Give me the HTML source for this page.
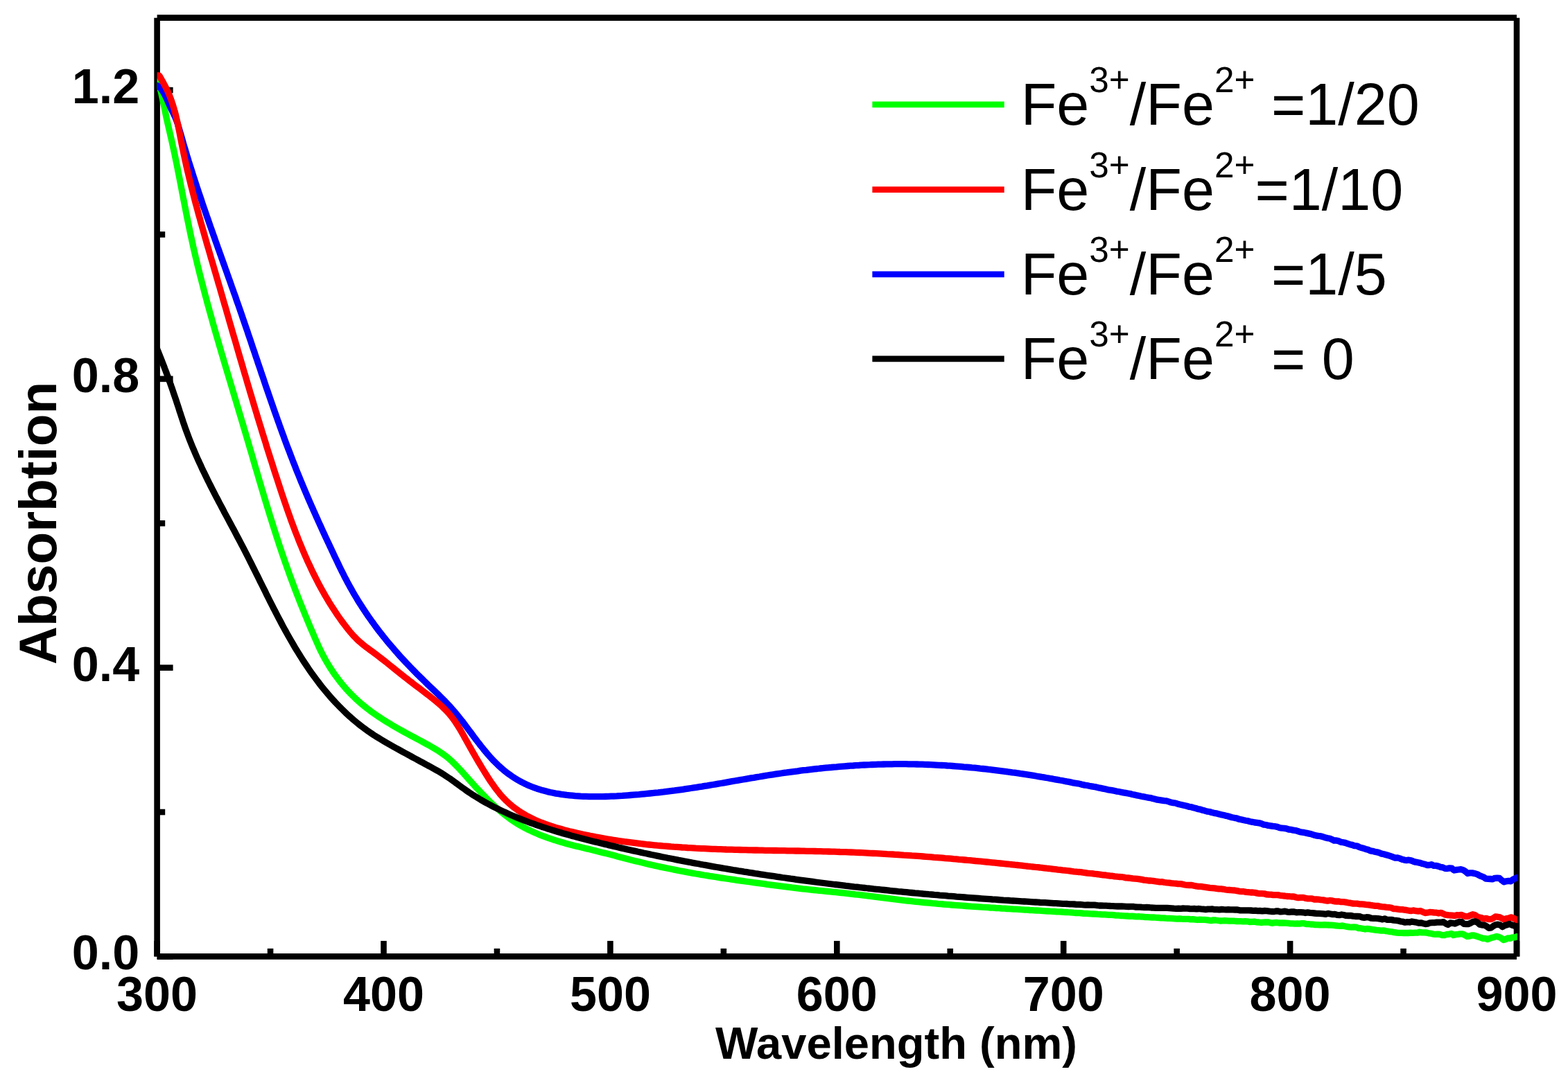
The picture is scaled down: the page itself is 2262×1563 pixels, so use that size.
<!DOCTYPE html>
<html lang="en"><head><meta charset="utf-8"><title>Absorption spectra</title>
<style>html,body{margin:0;padding:0;background:#fff;overflow:hidden}body{width:2262px;height:1563px}svg{display:block}text{font-kerning:normal}</style></head>
<body>
<svg width="2262" height="1563" viewBox="0 0 2262 1563" role="img" aria-label="UV-vis absorption spectra for different Fe3+/Fe2+ ratios">
<rect width="2262" height="1563" fill="#fff"/>
<defs><clipPath id="plot"><rect x="226.6" y="25.65" width="1962.30" height="1354.75"/></clipPath></defs>
<g stroke="#000" stroke-width="8.6" fill="none" stroke-linecap="butt">
<path d="M226.6 25.65 V1380.4"/>
<path d="M2188.0 25.65 V1380.4"/>
<path d="M226.6 25.65 H2188.0"/>
<path d="M226.6 1380.4 H2188.0"/>
<path d="M226.60 1380.4 v-22.5"/>
<path d="M390.05 1380.4 v-11.5"/>
<path d="M553.50 1380.4 v-22.5"/>
<path d="M716.95 1380.4 v-11.5"/>
<path d="M880.40 1380.4 v-22.5"/>
<path d="M1043.85 1380.4 v-11.5"/>
<path d="M1207.30 1380.4 v-22.5"/>
<path d="M1370.75 1380.4 v-11.5"/>
<path d="M1534.20 1380.4 v-22.5"/>
<path d="M1697.65 1380.4 v-11.5"/>
<path d="M1861.10 1380.4 v-22.5"/>
<path d="M2024.55 1380.4 v-11.5"/>
<path d="M2188.00 1380.4 v-22.5"/>
<path d="M226.6 1380.40 h23"/>
<path d="M226.6 1172.02 h11.6"/>
<path d="M226.6 963.63 h23"/>
<path d="M226.6 755.25 h11.6"/>
<path d="M226.6 546.87 h23"/>
<path d="M226.6 338.48 h11.6"/>
<path d="M226.6 130.10 h23"/>
</g>
<g fill="none" stroke-linejoin="round" stroke-linecap="round" stroke-width="9.3" clip-path="url(#plot)">
<path d="M226.6 118.0L227.1 118.9L227.5 119.7L228.0 120.6L228.4 121.5L228.9 122.4L229.3 123.4L229.7 124.3L230.1 125.2L230.4 126.2L230.8 127.1L231.1 128.1L231.4 129.0L231.6 130.0L231.9 131.0L232.1 131.9L232.3 132.9L232.6 133.9L232.8 134.8L233.0 135.8L233.2 136.8L233.4 137.8L233.6 138.7L233.8 139.7L234.0 140.7L234.3 141.7L234.5 142.6L234.7 143.6L234.9 144.6L235.1 145.6L235.3 146.5L235.5 147.5L235.7 148.5L235.9 149.5L236.1 150.4L236.3 151.4L236.5 152.4L236.7 153.4L236.9 154.4L237.1 155.3L237.3 156.3L237.5 157.3L237.7 158.3L237.9 159.2L238.1 160.2L238.3 161.2L238.5 162.2L238.7 163.1L238.9 164.1L239.1 165.1L239.3 166.1L239.5 167.0L239.7 168.0L239.9 169.0L240.1 170.0L240.3 171.0L240.5 171.9L240.8 172.9L241.0 173.9L241.2 174.9L241.4 175.8L242.3 179.7L243.2 183.6L244.1 187.6L245.0 191.5L245.9 195.4L246.8 199.3L247.7 203.2L248.6 207.1L249.4 211.0L250.3 214.9L251.1 218.8L252.0 222.8L252.8 226.7L253.6 230.6L254.4 234.5L255.2 238.4L256.0 242.3L256.7 246.2L257.5 250.2L258.3 254.1L259.1 258.0L259.8 261.9L260.6 265.8L261.3 269.7L262.1 273.6L262.8 277.6L263.6 281.5L264.3 285.4L265.1 289.3L265.9 293.2L266.6 297.1L267.4 301.0L268.1 304.9L268.9 308.8L269.7 312.8L270.5 316.7L271.3 320.6L272.1 324.5L272.9 328.4L273.7 332.3L274.5 336.2L275.3 340.1L276.2 344.0L277.0 347.9L277.9 351.8L278.7 355.7L279.6 359.6L280.5 363.5L281.4 367.4L282.3 371.3L283.3 375.2L284.2 379.0L285.1 382.9L286.1 386.8L287.0 390.7L288.0 394.6L289.0 398.5L290.0 402.4L291.0 406.3L292.0 410.1L293.0 414.0L294.0 417.9L295.0 421.8L296.0 425.7L297.1 429.5L298.1 433.4L299.1 437.3L300.2 441.2L301.3 445.0L302.3 448.9L303.4 452.8L304.5 456.6L305.6 460.5L306.6 464.4L307.7 468.2L308.8 472.1L309.9 476.0L311.0 479.8L312.1 483.7L313.3 487.6L314.4 491.4L315.5 495.3L316.6 499.1L317.8 503.0L318.9 506.9L320.0 510.7L321.2 514.6L322.3 518.4L323.4 522.3L324.6 526.1L325.7 530.0L326.9 533.8L328.0 537.7L329.2 541.5L330.3 545.4L331.5 549.2L332.6 553.1L333.8 556.9L334.9 560.7L336.1 564.6L337.2 568.4L338.4 572.3L339.5 576.1L340.7 579.9L341.8 583.8L343.0 587.6L344.1 591.5L345.3 595.3L346.4 599.1L347.6 603.0L348.7 606.8L349.9 610.6L351.0 614.4L352.1 618.3L353.3 622.1L354.4 625.9L355.5 629.8L356.7 633.6L357.8 637.4L358.9 641.2L360.0 645.1L361.1 648.9L362.3 652.7L363.4 656.5L364.5 660.3L365.6 664.1L366.7 668.0L367.8 671.8L368.9 675.6L370.1 679.4L371.2 683.2L372.3 687.0L373.4 690.8L374.5 694.7L375.7 698.5L376.8 702.3L377.9 706.1L379.1 709.9L380.2 713.7L381.3 717.5L382.5 721.3L383.6 725.1L384.8 728.9L385.9 732.7L387.1 736.5L388.3 740.3L389.4 744.1L390.6 747.9L391.8 751.7L393.0 755.5L394.2 759.3L395.4 763.1L396.6 766.9L397.8 770.7L399.0 774.5L400.3 778.3L401.5 782.1L402.7 785.9L404.0 789.7L405.3 793.5L406.5 797.2L407.8 801.0L409.1 804.8L410.4 808.6L411.7 812.4L413.1 816.2L414.4 820.0L415.8 823.7L417.1 827.5L418.5 831.3L419.9 835.1L421.3 838.9L422.7 842.6L424.1 846.4L425.5 850.2L427.0 854.0L428.4 857.8L429.9 861.5L431.4 865.3L432.8 869.1L434.3 872.8L435.9 876.6L437.4 880.3L438.9 884.1L440.4 887.8L442.0 891.5L443.5 895.3L445.0 899.0L446.6 902.7L448.1 906.4L449.7 910.0L451.3 913.7L452.8 917.3L454.4 921.0L456.0 924.6L457.6 928.2L459.2 931.8L460.8 935.4L462.5 938.9L464.3 942.5L466.1 946.0L468.0 949.5L469.9 953.0L471.9 956.4L474.0 959.9L476.1 963.3L478.3 966.6L480.5 970.0L482.8 973.3L485.2 976.6L487.6 979.8L490.0 983.0L492.5 986.1L495.1 989.2L497.7 992.3L500.4 995.3L503.1 998.3L505.9 1001.2L508.7 1004.0L511.5 1006.8L514.4 1009.6L517.4 1012.2L520.4 1014.9L523.4 1017.4L526.5 1019.9L529.6 1022.4L532.8 1024.8L536.0 1027.2L539.2 1029.5L542.5 1031.8L545.7 1034.0L549.1 1036.2L552.4 1038.4L555.8 1040.5L559.2 1042.6L562.6 1044.6L566.0 1046.7L569.5 1048.7L573.0 1050.7L576.5 1052.7L580.0 1054.6L583.5 1056.6L587.0 1058.5L590.5 1060.4L594.1 1062.3L597.6 1064.2L601.2 1066.1L604.8 1068.0L608.3 1069.9L611.9 1071.9L615.4 1073.8L619.0 1075.7L622.5 1077.7L625.9 1079.7L629.3 1081.8L632.7 1083.9L636.0 1086.1L639.3 1088.4L642.5 1090.7L645.6 1093.2L648.6 1095.7L651.6 1098.4L654.4 1101.1L657.2 1103.9L660.0 1106.7L662.7 1109.6L665.4 1112.5L668.1 1115.5L670.7 1118.4L673.4 1121.4L676.0 1124.4L678.7 1127.4L681.4 1130.4L684.1 1133.3L686.8 1136.3L689.5 1139.2L692.3 1142.1L695.0 1145.1L697.8 1147.9L700.6 1150.8L703.4 1153.7L706.3 1156.5L709.2 1159.3L712.1 1162.0L715.0 1164.7L718.0 1167.4L721.1 1170.1L724.1 1172.7L727.2 1175.2L730.4 1177.7L733.6 1180.1L736.8 1182.4L740.1 1184.7L743.4 1186.9L746.8 1189.0L750.2 1191.0L753.7 1193.0L757.2 1194.9L760.7 1196.7L764.3 1198.4L767.9 1200.1L771.6 1201.8L775.2 1203.3L778.9 1204.9L782.7 1206.3L786.4 1207.7L790.2 1209.1L794.0 1210.4L797.8 1211.7L801.6 1212.9L805.4 1214.1L809.3 1215.2L813.1 1216.3L817.0 1217.4L820.8 1218.4L824.7 1219.4L828.5 1220.4L832.4 1221.4L836.3 1222.3L840.1 1223.3L844.0 1224.2L847.9 1225.1L851.8 1226.1L855.6 1227.0L859.5 1227.9L863.4 1228.9L867.3 1229.9L871.1 1230.9L875.0 1231.8L878.9 1232.8L882.8 1233.8L886.7 1234.8L890.6 1235.9L894.5 1236.9L898.4 1237.9L902.3 1238.9L906.2 1239.9L910.0 1240.9L913.9 1241.9L917.8 1242.9L921.8 1243.8L925.7 1244.8L929.6 1245.7L933.5 1246.7L937.4 1247.6L941.3 1248.5L945.2 1249.4L949.1 1250.2L953.0 1251.1L956.9 1251.9L960.9 1252.7L964.8 1253.5L968.7 1254.3L972.6 1255.1L976.5 1255.9L980.5 1256.7L984.4 1257.4L988.3 1258.1L992.2 1258.9L996.2 1259.6L1000.1 1260.3L1004.0 1261.0L1008.0 1261.6L1011.9 1262.3L1015.8 1263.0L1019.8 1263.6L1023.7 1264.3L1027.6 1264.9L1031.6 1265.5L1035.5 1266.1L1039.5 1266.8L1043.4 1267.4L1047.4 1268.0L1051.3 1268.5L1055.2 1269.1L1059.2 1269.7L1063.1 1270.3L1067.1 1270.8L1071.0 1271.4L1075.0 1272.0L1078.9 1272.5L1082.9 1273.0L1086.8 1273.6L1090.8 1274.1L1094.8 1274.7L1098.7 1275.2L1102.7 1275.7L1106.6 1276.3L1110.6 1276.8L1114.5 1277.3L1118.5 1277.8L1122.5 1278.3L1126.4 1278.9L1130.4 1279.4L1134.3 1279.9L1138.3 1280.4L1142.3 1280.9L1146.2 1281.3L1150.2 1281.8L1154.2 1282.3L1158.1 1282.8L1162.1 1283.2L1166.1 1283.7L1170.1 1284.1L1174.0 1284.5L1178.0 1284.9L1182.0 1285.3L1185.9 1285.7L1189.9 1286.1L1193.9 1286.5L1197.9 1286.9L1201.8 1287.3L1205.8 1287.7L1209.8 1288.1L1213.8 1288.5L1217.7 1288.9L1221.7 1289.4L1225.7 1289.8L1229.7 1290.3L1233.6 1290.8L1237.6 1291.2L1241.6 1291.7L1245.6 1292.2L1249.6 1292.7L1253.5 1293.2L1257.5 1293.7L1261.5 1294.2L1265.5 1294.7L1269.5 1295.2L1273.4 1295.7L1277.4 1296.2L1281.4 1296.7L1285.4 1297.2L1289.4 1297.7L1293.4 1298.2L1297.3 1298.7L1301.3 1299.1L1305.3 1299.6L1309.3 1300.0L1313.3 1300.4L1317.3 1300.9L1321.3 1301.3L1325.2 1301.7L1329.2 1302.1L1333.2 1302.5L1337.2 1302.8L1341.2 1303.2L1345.2 1303.6L1349.1 1303.9L1353.1 1304.3L1357.1 1304.6L1361.1 1305.0L1365.1 1305.3L1369.1 1305.6L1373.1 1306.0L1377.1 1306.3L1381.0 1306.6L1385.0 1306.9L1389.0 1307.2L1393.0 1307.5L1397.0 1307.8L1401.0 1308.1L1405.0 1308.3L1409.0 1308.6L1413.0 1308.9L1416.9 1309.2L1420.9 1309.4L1424.9 1309.7L1428.9 1310.0L1432.9 1310.2L1436.9 1310.5L1440.9 1310.7L1444.9 1311.0L1448.9 1311.2L1452.8 1311.5L1456.1 1311.7L1459.4 1311.9L1462.7 1312.1L1465.9 1312.2L1469.2 1312.4L1472.5 1312.7L1475.7 1312.8L1479.0 1313.1L1482.3 1313.2L1485.5 1313.5L1488.8 1313.6L1492.1 1313.8L1495.3 1314.0L1498.6 1314.2L1501.9 1314.4L1505.2 1314.6L1508.4 1314.8L1511.7 1315.0L1515.0 1315.2L1518.2 1315.3L1521.5 1315.5L1524.8 1315.8L1528.0 1315.9L1531.3 1316.0L1534.6 1316.3L1537.8 1316.5L1541.1 1316.7L1544.4 1316.8L1547.6 1317.1L1550.9 1317.5L1554.2 1317.6L1557.5 1317.7L1560.7 1318.0L1564.0 1318.3L1567.3 1318.4L1570.5 1318.6L1573.8 1318.9L1577.1 1319.0L1580.3 1319.1L1583.6 1319.4L1586.9 1319.6L1590.1 1319.9L1593.4 1319.9L1596.7 1320.1L1600.0 1320.3L1603.2 1320.3L1606.5 1320.7L1609.8 1321.1L1613.0 1321.1L1616.3 1321.5L1619.6 1321.7L1622.8 1321.9L1626.1 1322.0L1629.4 1322.3L1632.6 1322.2L1635.9 1322.5L1639.2 1322.8L1642.5 1322.6L1645.7 1323.0L1649.0 1323.2L1652.3 1323.6L1655.5 1323.6L1658.8 1323.8L1662.1 1324.0L1665.3 1324.0L1668.6 1324.4L1671.9 1324.5L1675.1 1324.8L1678.4 1324.8L1681.7 1325.2L1684.9 1325.4L1688.2 1325.3L1691.5 1325.6L1694.8 1325.9L1698.0 1326.2L1701.3 1325.8L1704.6 1326.2L1707.8 1326.4L1711.1 1326.4L1714.4 1326.4L1717.6 1326.9L1720.9 1326.7L1724.2 1327.1L1727.4 1327.5L1730.7 1327.1L1734.0 1327.3L1737.3 1327.3L1740.5 1327.7L1743.8 1328.2L1747.1 1328.6L1750.3 1327.9L1753.6 1328.0L1756.9 1328.5L1760.1 1329.0L1763.4 1328.9L1766.7 1328.7L1769.9 1328.9L1773.2 1329.1L1776.5 1329.1L1779.7 1329.1L1783.0 1329.5L1786.3 1329.7L1789.6 1329.7L1792.8 1329.8L1796.1 1329.6L1799.4 1329.8L1802.6 1330.5L1805.9 1330.4L1809.2 1330.1L1812.4 1330.8L1815.7 1331.0L1819.0 1331.5L1822.2 1331.2L1825.5 1331.0L1828.8 1330.8L1832.1 1331.6L1835.3 1332.3L1838.6 1331.6L1841.9 1331.5L1845.1 1332.0L1848.4 1331.8L1851.7 1332.0L1854.9 1332.2L1858.2 1332.4L1861.5 1332.9L1864.7 1332.8L1868.0 1333.1L1871.3 1332.9L1874.5 1333.2L1877.8 1332.6L1881.1 1332.7L1884.4 1333.6L1887.6 1333.6L1890.9 1334.0L1894.2 1334.2L1897.4 1334.6L1900.7 1334.7L1904.0 1334.9L1907.2 1334.8L1910.5 1334.6L1913.8 1334.8L1917.0 1335.0L1920.3 1335.1L1923.6 1335.4L1926.9 1335.8L1930.1 1336.2L1933.4 1336.3L1936.7 1336.0L1939.9 1336.7L1943.2 1337.3L1946.5 1337.9L1949.7 1338.2L1953.0 1338.0L1956.3 1338.1L1959.5 1339.5L1962.8 1339.7L1966.1 1340.3L1969.4 1341.0L1972.6 1340.3L1975.9 1340.8L1979.2 1341.4L1982.4 1341.9L1985.7 1342.4L1989.0 1342.7L1992.2 1343.1L1995.5 1342.8L1998.8 1343.6L2002.0 1344.0L2005.3 1344.7L2008.6 1344.9L2011.8 1345.7L2015.1 1346.2L2018.4 1346.3L2021.7 1346.4L2024.9 1346.5L2028.2 1346.4L2031.5 1346.5L2034.7 1346.2L2038.0 1346.4L2041.3 1346.2L2044.5 1346.2L2047.8 1345.2L2051.1 1345.9L2054.3 1345.9L2057.6 1346.0L2060.9 1346.8L2064.2 1347.2L2067.4 1348.1L2070.7 1348.3L2074.0 1348.2L2077.2 1348.5L2080.5 1349.7L2083.8 1349.7L2087.0 1348.5L2090.3 1348.3L2093.6 1347.4L2096.8 1349.6L2100.1 1348.7L2103.4 1348.3L2106.6 1347.8L2109.9 1347.8L2113.2 1349.5L2116.5 1351.3L2119.7 1351.0L2123.0 1350.0L2126.3 1350.0L2129.5 1350.9L2132.8 1352.1L2136.1 1353.1L2139.3 1354.3L2142.6 1354.4L2145.9 1355.5L2149.1 1354.4L2152.4 1353.2L2155.7 1352.4L2159.0 1351.4L2162.2 1352.3L2165.5 1353.7L2168.8 1356.5L2172.0 1355.6L2175.3 1353.9L2178.6 1354.3L2181.8 1352.8L2185.1 1352.9L2188.4 1351.7L2188.7 1351.6" stroke="#00ff00"/>
<path d="M226.6 123.4L227.5 123.8L228.4 124.3L229.2 124.9L229.9 125.6L230.6 126.3L231.3 127.0L231.9 127.8L232.6 128.6L233.2 129.4L233.8 130.2L234.3 131.0L234.9 131.8L235.4 132.7L235.9 133.5L236.4 134.4L236.9 135.2L237.4 136.1L237.8 137.0L238.3 137.9L238.7 138.8L239.2 139.7L239.6 140.6L240.0 141.5L240.4 142.4L240.8 143.3L241.2 144.2L241.6 145.1L242.0 146.1L242.4 147.0L242.8 147.9L243.2 148.8L243.6 149.8L244.0 150.7L244.4 151.6L244.9 152.5L245.3 153.4L245.7 154.4L246.1 155.3L246.6 156.2L247.0 157.2L247.5 158.1L247.9 159.0L248.4 159.9L248.8 160.9L249.3 161.8L249.7 162.7L250.2 163.7L250.6 164.6L251.1 165.5L251.5 166.4L251.9 167.4L252.3 168.3L252.8 169.2L253.2 170.2L253.5 171.1L253.9 172.0L254.3 173.0L254.6 173.9L255.0 174.8L255.3 175.8L256.6 179.5L257.7 183.3L258.8 187.0L259.9 190.8L261.0 194.6L262.1 198.3L263.1 202.1L264.2 205.9L265.3 209.7L266.4 213.4L267.6 217.2L268.7 221.0L269.8 224.8L271.0 228.6L272.1 232.4L273.3 236.1L274.5 239.9L275.7 243.7L276.9 247.5L278.1 251.3L279.3 255.1L280.5 258.8L281.7 262.6L283.0 266.4L284.2 270.2L285.5 274.0L286.7 277.8L288.0 281.6L289.3 285.3L290.6 289.1L291.8 292.9L293.1 296.7L294.4 300.5L295.7 304.3L297.0 308.0L298.3 311.8L299.7 315.6L301.0 319.4L302.3 323.2L303.6 327.0L305.0 330.8L306.3 334.5L307.6 338.3L309.0 342.1L310.3 345.9L311.6 349.7L313.0 353.5L314.3 357.3L315.7 361.0L317.0 364.8L318.4 368.6L319.7 372.4L321.1 376.2L322.4 380.0L323.8 383.7L325.1 387.5L326.5 391.3L327.8 395.1L329.2 398.9L330.5 402.7L331.9 406.4L333.2 410.2L334.5 414.0L335.9 417.8L337.2 421.6L338.6 425.3L339.9 429.1L341.2 432.9L342.5 436.7L343.9 440.5L345.2 444.2L346.5 448.0L347.8 451.8L349.1 455.6L350.4 459.4L351.7 463.1L353.0 466.9L354.3 470.7L355.6 474.5L356.9 478.2L358.1 482.0L359.4 485.8L360.7 489.6L362.0 493.3L363.2 497.1L364.5 500.9L365.8 504.7L367.1 508.4L368.3 512.2L369.6 516.0L370.9 519.7L372.1 523.5L373.4 527.3L374.7 531.0L376.0 534.8L377.2 538.6L378.5 542.3L379.8 546.1L381.1 549.9L382.3 553.6L383.6 557.4L384.9 561.2L386.2 564.9L387.5 568.7L388.8 572.5L390.1 576.2L391.4 580.0L392.7 583.7L394.0 587.5L395.3 591.3L396.6 595.0L398.0 598.8L399.3 602.5L400.6 606.3L402.0 610.0L403.3 613.8L404.7 617.6L406.0 621.3L407.4 625.1L408.8 628.8L410.1 632.6L411.5 636.3L412.9 640.1L414.3 643.8L415.7 647.5L417.2 651.3L418.6 655.0L420.0 658.8L421.5 662.5L422.9 666.3L424.4 670.0L425.9 673.8L427.3 677.5L428.8 681.2L430.4 685.0L431.9 688.7L433.4 692.4L434.9 696.2L436.5 699.9L438.0 703.6L439.6 707.4L441.2 711.1L442.8 714.8L444.4 718.6L446.0 722.3L447.6 726.0L449.2 729.7L450.9 733.4L452.5 737.1L454.2 740.8L455.8 744.5L457.5 748.2L459.1 751.9L460.8 755.6L462.5 759.3L464.1 762.9L465.8 766.6L467.5 770.3L469.2 773.9L470.9 777.6L472.6 781.2L474.3 784.8L476.0 788.5L477.7 792.1L479.4 795.7L481.1 799.3L482.7 802.9L484.5 806.5L486.2 810.1L487.9 813.6L489.6 817.2L491.3 820.7L493.1 824.3L494.9 827.8L496.6 831.3L498.4 834.8L500.3 838.3L502.1 841.8L504.0 845.2L505.9 848.7L507.9 852.1L509.8 855.6L511.8 859.0L513.9 862.4L515.9 865.8L518.0 869.2L520.1 872.5L522.3 875.9L524.4 879.2L526.7 882.6L528.9 885.9L531.1 889.2L533.4 892.4L535.7 895.7L538.1 898.9L540.4 902.2L542.8 905.4L545.2 908.6L547.7 911.8L550.1 914.9L552.6 918.1L555.1 921.2L557.6 924.3L560.2 927.4L562.8 930.5L565.4 933.5L568.0 936.6L570.6 939.6L573.3 942.6L575.9 945.6L578.6 948.6L581.3 951.5L584.1 954.5L586.8 957.4L589.6 960.3L592.3 963.2L595.1 966.1L597.9 968.9L600.7 971.8L603.6 974.6L606.4 977.4L609.3 980.2L612.2 983.0L615.1 985.8L617.9 988.6L620.8 991.3L623.7 994.1L626.6 996.9L629.5 999.6L632.4 1002.4L635.2 1005.2L638.0 1008.0L640.8 1010.8L643.6 1013.7L646.3 1016.6L649.0 1019.5L651.7 1022.5L654.3 1025.5L656.9 1028.5L659.4 1031.6L661.9 1034.7L664.4 1037.8L666.9 1040.9L669.3 1044.1L671.7 1047.3L674.1 1050.5L676.5 1053.7L678.9 1056.9L681.3 1060.1L683.7 1063.4L686.1 1066.6L688.5 1069.8L691.0 1072.9L693.4 1076.1L695.9 1079.2L698.4 1082.4L701.0 1085.4L703.6 1088.5L706.2 1091.5L708.9 1094.5L711.7 1097.4L714.5 1100.2L717.3 1103.0L720.2 1105.8L723.2 1108.5L726.2 1111.1L729.3 1113.6L732.5 1116.1L735.8 1118.4L739.1 1120.7L742.4 1122.9L745.8 1125.0L749.3 1127.0L752.8 1128.9L756.4 1130.7L760.0 1132.4L763.6 1134.0L767.3 1135.5L771.0 1136.9L774.7 1138.2L778.5 1139.4L782.3 1140.6L786.2 1141.6L790.0 1142.6L793.9 1143.5L797.8 1144.3L801.8 1145.1L805.7 1145.7L809.7 1146.4L813.6 1146.9L817.6 1147.4L821.6 1147.8L825.6 1148.2L829.6 1148.6L833.6 1148.8L837.6 1149.1L841.6 1149.3L845.7 1149.4L849.7 1149.6L853.7 1149.6L857.7 1149.7L861.7 1149.7L865.7 1149.7L869.7 1149.6L873.7 1149.5L877.7 1149.4L881.7 1149.2L885.7 1149.1L889.7 1148.9L893.7 1148.6L897.7 1148.4L901.7 1148.1L905.7 1147.8L909.7 1147.5L913.7 1147.2L917.7 1146.9L921.7 1146.6L925.6 1146.2L929.6 1145.8L933.6 1145.4L937.6 1145.0L941.5 1144.6L945.5 1144.2L949.4 1143.8L953.4 1143.3L957.4 1142.9L961.3 1142.4L965.3 1141.9L969.2 1141.4L973.2 1140.9L977.1 1140.3L981.1 1139.8L985.0 1139.3L989.0 1138.7L992.9 1138.1L996.8 1137.5L1000.8 1136.9L1004.7 1136.3L1008.7 1135.7L1012.6 1135.1L1016.5 1134.4L1020.5 1133.8L1024.4 1133.1L1028.3 1132.5L1032.3 1131.8L1036.2 1131.1L1040.1 1130.5L1044.1 1129.8L1048.0 1129.1L1052.0 1128.4L1055.9 1127.7L1059.8 1127.0L1063.8 1126.3L1067.7 1125.7L1071.7 1125.0L1075.6 1124.3L1079.6 1123.6L1083.5 1122.9L1087.5 1122.3L1091.4 1121.6L1095.4 1121.0L1099.3 1120.3L1103.3 1119.7L1107.2 1119.0L1111.2 1118.4L1115.2 1117.8L1119.1 1117.2L1123.1 1116.6L1127.1 1116.0L1131.0 1115.4L1135.0 1114.9L1139.0 1114.3L1143.0 1113.8L1146.9 1113.3L1150.9 1112.8L1154.9 1112.2L1158.9 1111.7L1162.9 1111.3L1166.9 1110.8L1170.8 1110.3L1174.8 1109.9L1178.8 1109.5L1182.8 1109.0L1186.8 1108.6L1190.8 1108.2L1194.8 1107.8L1198.8 1107.5L1202.8 1107.1L1206.8 1106.8L1210.8 1106.4L1214.8 1106.1L1218.8 1105.8L1222.8 1105.5L1226.8 1105.2L1230.8 1105.0L1234.8 1104.7L1238.8 1104.5L1242.8 1104.2L1246.8 1104.0L1250.8 1103.8L1254.8 1103.7L1258.8 1103.5L1262.8 1103.4L1266.8 1103.2L1270.8 1103.1L1274.8 1103.0L1278.8 1102.9L1282.7 1102.8L1286.7 1102.8L1290.7 1102.7L1294.7 1102.7L1298.7 1102.7L1302.7 1102.7L1306.7 1102.7L1310.7 1102.8L1314.7 1102.8L1318.7 1102.9L1322.7 1103.0L1326.6 1103.1L1330.6 1103.2L1334.6 1103.4L1338.6 1103.5L1342.6 1103.7L1346.6 1103.9L1350.5 1104.1L1354.5 1104.3L1358.5 1104.5L1362.5 1104.7L1366.5 1105.0L1370.4 1105.2L1374.4 1105.5L1378.4 1105.8L1382.4 1106.1L1386.3 1106.4L1390.3 1106.8L1394.3 1107.1L1398.2 1107.5L1402.2 1107.9L1406.2 1108.2L1410.1 1108.6L1414.1 1109.1L1418.1 1109.5L1422.0 1109.9L1426.0 1110.4L1430.0 1110.8L1433.9 1111.3L1437.9 1111.8L1441.9 1112.3L1445.8 1112.8L1449.8 1113.3L1453.7 1113.9L1457.0 1114.3L1460.3 1114.8L1463.5 1115.2L1466.8 1115.7L1470.1 1116.1L1473.3 1116.7L1476.6 1117.2L1479.9 1117.7L1483.2 1118.2L1486.4 1118.7L1489.7 1119.2L1493.0 1119.7L1496.2 1120.3L1499.5 1120.8L1502.8 1121.4L1506.0 1121.9L1509.3 1122.5L1512.6 1123.0L1515.8 1123.7L1519.1 1124.2L1522.4 1124.8L1525.6 1125.4L1528.9 1126.0L1532.2 1126.5L1535.5 1127.2L1538.7 1127.9L1542.0 1128.4L1545.3 1129.1L1548.5 1129.9L1551.8 1130.3L1555.1 1130.8L1558.3 1131.5L1561.6 1132.4L1564.9 1133.1L1568.1 1133.5L1571.4 1134.2L1574.7 1134.8L1578.0 1135.4L1581.2 1135.9L1584.5 1136.8L1587.8 1137.4L1591.0 1138.1L1594.3 1138.8L1597.6 1139.6L1600.8 1140.2L1604.1 1140.6L1607.4 1141.3L1610.6 1142.1L1613.9 1142.5L1617.2 1143.2L1620.4 1143.9L1623.7 1144.4L1627.0 1145.0L1630.3 1145.6L1633.5 1146.5L1636.8 1147.1L1640.1 1147.9L1643.3 1148.5L1646.6 1149.2L1649.9 1149.8L1653.1 1150.5L1656.4 1151.1L1659.7 1151.6L1662.9 1152.5L1666.2 1153.3L1669.5 1154.2L1672.8 1154.6L1676.0 1155.1L1679.3 1155.6L1682.6 1155.9L1685.8 1156.9L1689.1 1158.0L1692.4 1158.6L1695.6 1159.0L1698.9 1160.2L1702.2 1161.0L1705.4 1161.7L1708.7 1162.5L1712.0 1163.3L1715.2 1164.3L1718.5 1164.7L1721.8 1165.7L1725.1 1166.5L1728.3 1167.6L1731.6 1168.1L1734.9 1169.3L1738.1 1170.1L1741.4 1171.1L1744.7 1171.5L1747.9 1172.5L1751.2 1173.3L1754.5 1173.8L1757.7 1174.7L1761.0 1175.6L1764.3 1176.2L1767.6 1177.1L1770.8 1177.7L1774.1 1178.7L1777.4 1179.7L1780.6 1180.3L1783.9 1180.8L1787.2 1182.1L1790.4 1182.7L1793.7 1183.5L1797.0 1184.2L1800.2 1184.8L1803.5 1185.7L1806.8 1186.3L1810.1 1187.0L1813.3 1187.3L1816.6 1187.8L1819.9 1188.8L1823.1 1190.1L1826.4 1190.5L1829.7 1191.4L1832.9 1191.8L1836.2 1192.4L1839.5 1192.7L1842.7 1193.4L1846.0 1194.6L1849.3 1195.2L1852.5 1195.3L1855.8 1195.9L1859.1 1197.0L1862.4 1197.3L1865.6 1198.2L1868.9 1198.6L1872.2 1199.5L1875.4 1200.6L1878.7 1201.2L1882.0 1201.7L1885.2 1202.4L1888.5 1203.1L1891.8 1203.8L1895.0 1204.9L1898.3 1205.8L1901.6 1206.4L1904.9 1206.7L1908.1 1207.6L1911.4 1208.7L1914.7 1209.6L1917.9 1210.0L1921.2 1211.3L1924.5 1213.0L1927.7 1212.9L1931.0 1213.8L1934.3 1215.3L1937.5 1215.7L1940.8 1216.4L1944.1 1217.6L1947.3 1218.7L1950.6 1219.4L1953.9 1220.7L1957.2 1220.8L1960.4 1222.3L1963.7 1223.5L1967.0 1224.3L1970.2 1225.4L1973.5 1226.3L1976.8 1227.8L1980.0 1228.3L1983.3 1229.2L1986.6 1229.8L1989.8 1230.7L1993.1 1232.1L1996.4 1232.7L1999.7 1233.7L2002.9 1234.6L2006.2 1235.7L2009.5 1236.9L2012.7 1238.1L2016.0 1237.9L2019.3 1238.9L2022.5 1240.2L2025.8 1241.1L2029.1 1241.7L2032.3 1241.2L2035.6 1241.9L2038.9 1243.2L2042.1 1244.2L2045.4 1244.7L2048.7 1245.4L2052.0 1246.5L2055.2 1247.2L2058.5 1248.5L2061.8 1248.5L2065.0 1247.7L2068.3 1249.4L2071.6 1249.4L2074.8 1250.1L2078.1 1251.3L2081.4 1251.9L2084.6 1253.4L2087.9 1253.6L2091.2 1252.8L2094.5 1253.2L2097.7 1256.0L2101.0 1255.4L2104.3 1255.0L2107.5 1254.6L2110.8 1255.6L2114.1 1257.7L2117.3 1260.5L2120.6 1259.8L2123.9 1259.9L2127.1 1260.6L2130.4 1261.4L2133.7 1263.2L2137.0 1264.7L2140.2 1265.8L2143.5 1268.1L2146.8 1268.3L2150.0 1268.5L2153.3 1268.8L2156.6 1267.3L2159.8 1267.2L2163.1 1267.5L2166.4 1270.4L2169.6 1272.8L2172.9 1271.8L2176.2 1271.3L2179.4 1271.9L2182.7 1269.2L2186.0 1267.6L2188.7 1266.4" stroke="#0000ff"/>
<path d="M226.6 109.5L227.6 108.9L228.7 108.9L229.5 109.2L230.2 109.8L230.7 110.6L231.1 111.5L231.6 112.3L232.1 113.2L232.5 114.0L233.0 114.9L233.5 115.7L234.0 116.6L234.5 117.5L235.0 118.3L235.5 119.2L235.9 120.1L236.4 121.0L236.9 121.9L237.4 122.8L237.9 123.7L238.3 124.6L238.8 125.5L239.3 126.4L239.7 127.3L240.2 128.2L240.6 129.1L241.0 130.0L241.5 130.9L241.9 131.8L242.3 132.8L242.7 133.7L243.1 134.6L243.5 135.5L243.9 136.4L244.3 137.4L244.7 138.3L245.0 139.2L245.4 140.1L245.7 141.1L246.1 142.0L246.5 142.9L246.8 143.9L247.1 144.8L247.5 145.7L247.8 146.7L248.1 147.6L248.4 148.6L248.7 149.5L249.0 150.5L249.4 151.4L249.6 152.3L249.9 153.3L250.2 154.2L250.5 155.2L250.8 156.1L251.1 157.1L251.3 158.0L251.6 159.0L251.9 160.0L252.1 160.9L253.2 164.7L254.1 168.6L255.0 172.5L255.9 176.3L256.7 180.2L257.5 184.1L258.3 188.0L259.1 191.9L259.8 195.8L260.6 199.8L261.4 203.7L262.1 207.6L262.9 211.5L263.7 215.4L264.5 219.3L265.3 223.3L266.2 227.2L267.0 231.1L267.9 235.0L268.7 238.9L269.6 242.8L270.5 246.7L271.5 250.6L272.4 254.5L273.3 258.4L274.3 262.3L275.2 266.2L276.2 270.0L277.2 273.9L278.2 277.8L279.2 281.7L280.2 285.6L281.2 289.5L282.2 293.4L283.3 297.2L284.3 301.1L285.4 305.0L286.4 308.9L287.5 312.7L288.6 316.6L289.6 320.5L290.7 324.3L291.8 328.2L292.9 332.1L294.0 335.9L295.1 339.8L296.2 343.7L297.3 347.5L298.4 351.4L299.5 355.2L300.7 359.1L301.8 363.0L302.9 366.8L304.0 370.7L305.1 374.5L306.3 378.4L307.4 382.2L308.5 386.1L309.6 389.9L310.8 393.8L311.9 397.6L313.0 401.5L314.1 405.3L315.2 409.1L316.4 413.0L317.5 416.8L318.6 420.7L319.7 424.5L320.8 428.3L321.9 432.2L323.0 436.0L324.1 439.9L325.3 443.7L326.4 447.5L327.5 451.4L328.6 455.2L329.7 459.0L330.8 462.9L331.9 466.7L333.0 470.5L334.1 474.3L335.2 478.2L336.3 482.0L337.4 485.8L338.6 489.7L339.7 493.5L340.8 497.3L341.9 501.1L343.0 505.0L344.1 508.8L345.2 512.6L346.3 516.4L347.5 520.3L348.6 524.1L349.7 527.9L350.8 531.7L351.9 535.5L353.0 539.4L354.2 543.2L355.3 547.0L356.4 550.8L357.5 554.6L358.7 558.5L359.8 562.3L360.9 566.1L362.1 569.9L363.2 573.7L364.4 577.6L365.5 581.4L366.6 585.2L367.8 589.0L368.9 592.8L370.1 596.6L371.2 600.5L372.4 604.3L373.6 608.1L374.7 611.9L375.9 615.7L377.1 619.5L378.2 623.4L379.4 627.2L380.6 631.0L381.8 634.8L383.0 638.6L384.1 642.5L385.3 646.3L386.5 650.1L387.7 653.9L388.9 657.7L390.1 661.5L391.4 665.4L392.6 669.2L393.8 673.0L395.0 676.8L396.2 680.6L397.5 684.5L398.7 688.3L400.0 692.1L401.2 695.9L402.5 699.8L403.7 703.6L405.0 707.4L406.2 711.2L407.5 715.0L408.8 718.9L410.1 722.7L411.4 726.5L412.7 730.3L414.0 734.1L415.4 737.9L416.7 741.7L418.1 745.5L419.4 749.3L420.8 753.1L422.2 756.8L423.6 760.6L425.0 764.4L426.4 768.1L427.9 771.9L429.4 775.6L430.8 779.3L432.3 783.1L433.9 786.8L435.4 790.5L436.9 794.2L438.5 797.9L440.1 801.6L441.7 805.2L443.3 808.9L445.0 812.5L446.7 816.1L448.4 819.8L450.1 823.4L451.8 827.0L453.6 830.5L455.4 834.1L457.2 837.6L459.0 841.2L460.9 844.7L462.8 848.2L464.7 851.7L466.6 855.1L468.6 858.6L470.6 862.0L472.7 865.5L474.7 868.9L476.8 872.2L478.9 875.6L481.1 878.9L483.3 882.3L485.5 885.6L487.7 888.9L490.0 892.1L492.3 895.4L494.7 898.6L497.1 901.8L499.5 904.9L502.0 908.1L504.5 911.2L507.1 914.2L509.7 917.2L512.5 920.1L515.3 923.0L518.3 925.7L521.3 928.3L524.4 930.9L527.6 933.4L530.9 935.8L534.1 938.2L537.4 940.6L540.6 943.0L543.8 945.3L547.0 947.8L550.1 950.2L553.2 952.6L556.3 955.0L559.3 957.5L562.4 960.0L565.4 962.4L568.5 964.9L571.6 967.4L574.7 969.9L577.8 972.4L581.0 974.9L584.1 977.4L587.3 979.8L590.5 982.3L593.8 984.8L597.0 987.3L600.2 989.8L603.5 992.2L606.7 994.7L609.9 997.1L613.1 999.6L616.3 1002.0L619.5 1004.4L622.6 1006.9L625.7 1009.4L628.8 1011.9L631.8 1014.4L634.8 1017.0L637.7 1019.6L640.5 1022.4L643.3 1025.1L646.0 1028.0L648.6 1031.0L651.1 1034.0L653.5 1037.2L655.9 1040.5L658.1 1043.8L660.3 1047.2L662.5 1050.7L664.6 1054.2L666.6 1057.8L668.6 1061.3L670.6 1064.9L672.5 1068.4L674.5 1071.9L676.4 1075.4L678.4 1078.9L680.3 1082.3L682.2 1085.7L684.2 1089.1L686.1 1092.5L688.1 1095.9L690.1 1099.3L692.1 1102.7L694.2 1106.1L696.2 1109.5L698.3 1112.9L700.4 1116.3L702.6 1119.7L704.8 1123.2L707.0 1126.6L709.3 1130.0L711.7 1133.3L714.1 1136.7L716.5 1139.9L719.1 1143.1L721.6 1146.3L724.3 1149.3L727.0 1152.3L729.8 1155.2L732.7 1157.9L735.6 1160.5L738.6 1163.1L741.7 1165.5L744.9 1167.8L748.1 1170.1L751.3 1172.2L754.7 1174.3L758.1 1176.3L761.5 1178.2L765.0 1180.0L768.5 1181.7L772.1 1183.4L775.7 1185.0L779.4 1186.5L783.1 1187.9L786.8 1189.3L790.6 1190.7L794.4 1192.0L798.2 1193.2L802.0 1194.4L805.9 1195.5L809.8 1196.6L813.7 1197.7L817.6 1198.7L821.5 1199.7L825.4 1200.6L829.4 1201.6L833.3 1202.5L837.2 1203.4L841.2 1204.2L845.1 1205.0L849.1 1205.9L853.0 1206.7L857.0 1207.4L860.9 1208.2L864.9 1208.9L868.8 1209.6L872.8 1210.3L876.7 1211.0L880.7 1211.7L884.6 1212.3L888.6 1212.9L892.6 1213.5L896.5 1214.1L900.5 1214.7L904.5 1215.2L908.4 1215.7L912.4 1216.2L916.4 1216.7L920.3 1217.2L924.3 1217.7L928.3 1218.1L932.2 1218.6L936.2 1219.0L940.2 1219.4L944.2 1219.8L948.2 1220.2L952.1 1220.5L956.1 1220.9L960.1 1221.2L964.1 1221.5L968.0 1221.9L972.0 1222.2L976.0 1222.4L980.0 1222.7L984.0 1223.0L988.0 1223.2L992.0 1223.5L995.9 1223.7L999.9 1223.9L1003.9 1224.2L1007.9 1224.4L1011.9 1224.6L1015.9 1224.7L1019.9 1224.9L1023.9 1225.1L1027.9 1225.3L1031.9 1225.4L1035.9 1225.6L1039.8 1225.7L1043.8 1225.8L1047.8 1226.0L1051.8 1226.1L1055.8 1226.2L1059.8 1226.3L1063.8 1226.4L1067.8 1226.5L1071.8 1226.6L1075.8 1226.7L1079.8 1226.8L1083.8 1226.9L1087.8 1227.0L1091.8 1227.0L1095.8 1227.1L1099.8 1227.2L1103.8 1227.3L1107.8 1227.3L1111.8 1227.4L1115.8 1227.5L1119.8 1227.5L1123.8 1227.6L1127.8 1227.6L1131.8 1227.7L1135.8 1227.8L1139.8 1227.8L1143.8 1227.9L1147.8 1228.0L1151.8 1228.0L1155.8 1228.1L1159.8 1228.2L1163.8 1228.3L1167.8 1228.3L1171.8 1228.4L1175.8 1228.5L1179.8 1228.6L1183.8 1228.7L1187.8 1228.8L1191.8 1228.9L1195.8 1229.0L1199.8 1229.1L1203.8 1229.2L1207.8 1229.3L1211.8 1229.5L1215.8 1229.6L1219.8 1229.7L1223.8 1229.9L1227.8 1230.0L1231.8 1230.2L1235.8 1230.4L1239.8 1230.5L1243.8 1230.7L1247.8 1230.9L1251.7 1231.1L1255.7 1231.3L1259.7 1231.5L1263.7 1231.7L1267.7 1231.9L1271.7 1232.1L1275.7 1232.3L1279.7 1232.6L1283.7 1232.8L1287.7 1233.0L1291.7 1233.3L1295.7 1233.5L1299.6 1233.8L1303.6 1234.1L1307.6 1234.3L1311.6 1234.6L1315.6 1234.9L1319.6 1235.1L1323.6 1235.4L1327.6 1235.7L1331.6 1236.0L1335.5 1236.3L1339.5 1236.6L1343.5 1236.9L1347.5 1237.3L1351.5 1237.6L1355.5 1237.9L1359.5 1238.2L1363.4 1238.6L1367.4 1238.9L1371.4 1239.2L1375.4 1239.6L1379.4 1239.9L1383.4 1240.3L1387.3 1240.6L1391.3 1241.0L1395.3 1241.4L1399.3 1241.7L1403.3 1242.1L1407.3 1242.5L1411.2 1242.8L1415.2 1243.2L1419.2 1243.6L1423.2 1244.0L1427.2 1244.4L1431.2 1244.8L1435.1 1245.2L1439.1 1245.6L1443.1 1246.0L1447.1 1246.4L1451.1 1246.8L1454.3 1247.1L1457.6 1247.5L1460.9 1247.8L1464.1 1248.2L1467.4 1248.5L1470.7 1248.8L1473.9 1249.2L1477.2 1249.6L1480.5 1250.0L1483.7 1250.3L1487.0 1250.7L1490.3 1251.0L1493.5 1251.4L1496.8 1251.7L1500.1 1252.0L1503.4 1252.4L1506.6 1252.8L1509.9 1253.2L1513.2 1253.5L1516.4 1253.9L1519.7 1254.3L1523.0 1254.7L1526.2 1255.1L1529.5 1255.4L1532.8 1255.8L1536.0 1256.1L1539.3 1256.5L1542.6 1256.9L1545.9 1257.4L1549.1 1257.8L1552.4 1258.1L1555.7 1258.5L1558.9 1258.7L1562.2 1259.2L1565.5 1259.6L1568.7 1260.1L1572.0 1260.4L1575.3 1260.6L1578.5 1261.1L1581.8 1261.5L1585.1 1261.8L1588.3 1262.3L1591.6 1262.8L1594.9 1263.0L1598.2 1263.7L1601.4 1264.0L1604.7 1264.2L1608.0 1264.9L1611.2 1265.1L1614.5 1265.5L1617.8 1265.6L1621.0 1266.0L1624.3 1266.9L1627.6 1267.0L1630.8 1267.3L1634.1 1267.8L1637.4 1268.1L1640.7 1268.4L1643.9 1268.8L1647.2 1269.4L1650.5 1270.1L1653.7 1270.4L1657.0 1271.0L1660.3 1271.0L1663.5 1271.4L1666.8 1271.9L1670.1 1272.3L1673.3 1272.8L1676.6 1272.7L1679.9 1273.5L1683.2 1273.9L1686.4 1274.1L1689.7 1274.6L1693.0 1274.9L1696.2 1275.1L1699.5 1275.6L1702.8 1275.7L1706.0 1276.2L1709.3 1277.0L1712.6 1277.4L1715.8 1277.5L1719.1 1277.5L1722.4 1278.3L1725.6 1278.9L1728.9 1279.3L1732.2 1279.4L1735.5 1279.9L1738.7 1280.3L1742.0 1280.8L1745.3 1281.3L1748.5 1281.6L1751.8 1281.9L1755.1 1282.4L1758.3 1282.8L1761.6 1282.9L1764.9 1283.3L1768.1 1284.0L1771.4 1284.4L1774.7 1284.5L1778.0 1284.9L1781.2 1285.0L1784.5 1285.6L1787.8 1286.3L1791.0 1286.6L1794.3 1286.7L1797.6 1287.3L1800.8 1287.6L1804.1 1288.0L1807.4 1288.0L1810.6 1288.4L1813.9 1289.1L1817.2 1289.7L1820.4 1289.6L1823.7 1289.8L1827.0 1290.8L1830.3 1291.0L1833.5 1291.1L1836.8 1291.6L1840.1 1291.7L1843.3 1291.6L1846.6 1292.3L1849.9 1292.7L1853.1 1293.0L1856.4 1293.5L1859.7 1293.6L1862.9 1294.0L1866.2 1293.9L1869.5 1295.0L1872.8 1295.7L1876.0 1295.3L1879.3 1295.3L1882.6 1296.1L1885.8 1296.8L1889.1 1296.8L1892.4 1296.8L1895.6 1298.0L1898.9 1297.8L1902.2 1298.2L1905.4 1298.6L1908.7 1298.9L1912.0 1299.6L1915.2 1300.1L1918.5 1299.5L1921.8 1299.9L1925.1 1300.8L1928.3 1301.0L1931.6 1300.9L1934.9 1301.7L1938.1 1301.7L1941.4 1302.1L1944.7 1302.8L1947.9 1303.2L1951.2 1304.0L1954.5 1304.1L1957.7 1304.1L1961.0 1304.8L1964.3 1304.9L1967.6 1305.2L1970.8 1305.6L1974.1 1305.8L1977.4 1306.4L1980.6 1306.9L1983.9 1307.3L1987.2 1307.3L1990.4 1308.2L1993.7 1308.6L1997.0 1308.9L2000.2 1309.3L2003.5 1309.6L2006.8 1310.0L2010.1 1311.5L2013.3 1311.7L2016.6 1312.2L2019.9 1312.7L2023.1 1312.6L2026.4 1313.2L2029.7 1313.7L2032.9 1314.3L2036.2 1314.5L2039.5 1313.9L2042.7 1314.7L2046.0 1315.1L2049.3 1314.6L2052.5 1316.2L2055.8 1317.5L2059.1 1317.2L2062.4 1316.5L2065.6 1316.7L2068.9 1317.0L2072.2 1317.2L2075.4 1318.0L2078.7 1317.3L2082.0 1318.8L2085.2 1320.2L2088.5 1320.6L2091.8 1321.0L2095.0 1321.2L2098.3 1321.7L2101.6 1320.7L2104.9 1320.9L2108.1 1320.4L2111.4 1321.8L2114.7 1322.7L2117.9 1322.6L2121.2 1321.1L2124.5 1319.7L2127.7 1320.5L2131.0 1322.8L2134.3 1324.2L2137.5 1324.7L2140.8 1326.2L2144.1 1325.3L2147.3 1326.6L2150.6 1326.7L2153.9 1325.3L2157.2 1323.0L2160.4 1323.2L2163.7 1323.9L2167.0 1325.6L2170.2 1327.2L2173.5 1325.5L2176.8 1325.1L2180.0 1323.8L2183.3 1325.1L2186.6 1326.9L2188.7 1327.7" stroke="#ff0000"/>
<path d="M226.6 503.5L227.0 504.5L227.3 505.4L227.7 506.3L228.1 507.2L228.4 508.1L228.8 509.1L229.2 510.0L229.5 510.9L229.9 511.8L230.3 512.7L230.6 513.7L231.0 514.6L231.4 515.5L231.7 516.4L232.1 517.4L232.5 518.3L232.8 519.2L233.2 520.2L233.6 521.1L233.9 522.0L234.3 523.0L234.6 523.9L235.0 524.8L235.4 525.8L235.7 526.7L236.1 527.6L236.5 528.6L236.8 529.5L237.2 530.4L237.5 531.4L237.9 532.3L238.2 533.3L238.6 534.2L239.0 535.1L239.3 536.1L239.7 537.0L240.0 538.0L240.4 538.9L240.7 539.9L241.1 540.8L241.4 541.7L241.8 542.7L242.1 543.6L242.5 544.6L242.8 545.5L243.2 546.5L243.5 547.4L243.9 548.4L244.2 549.3L244.5 550.3L244.9 551.2L245.2 552.2L245.6 553.1L245.9 554.1L246.2 555.0L246.6 556.0L246.9 556.9L247.2 557.9L247.6 558.8L247.9 559.8L249.2 563.6L250.5 567.4L251.8 571.2L253.1 575.0L254.4 578.8L255.6 582.6L256.9 586.4L258.1 590.2L259.3 594.0L260.6 597.8L261.8 601.6L263.1 605.4L264.3 609.2L265.6 612.9L266.9 616.7L268.2 620.4L269.6 624.2L271.0 627.9L272.4 631.6L273.8 635.3L275.3 639.0L276.8 642.7L278.3 646.4L279.9 650.0L281.4 653.7L283.0 657.3L284.6 661.0L286.2 664.6L287.9 668.2L289.6 671.8L291.2 675.4L292.9 679.0L294.7 682.6L296.4 686.2L298.2 689.8L299.9 693.4L301.7 697.0L303.5 700.5L305.3 704.1L307.1 707.6L308.9 711.2L310.8 714.8L312.6 718.3L314.5 721.8L316.3 725.4L318.2 728.9L320.1 732.5L322.0 736.0L323.8 739.6L325.7 743.1L327.6 746.6L329.5 750.2L331.4 753.7L333.3 757.2L335.2 760.8L337.1 764.3L339.0 767.9L340.8 771.4L342.7 775.0L344.6 778.5L346.5 782.1L348.3 785.6L350.2 789.2L352.0 792.7L353.9 796.3L355.7 799.9L357.5 803.4L359.3 807.0L361.1 810.6L362.9 814.2L364.7 817.8L366.5 821.4L368.3 825.0L370.1 828.6L371.9 832.2L373.7 835.8L375.4 839.4L377.2 842.9L379.0 846.5L380.8 850.1L382.6 853.7L384.3 857.3L386.1 860.9L387.9 864.5L389.7 868.1L391.5 871.6L393.3 875.2L395.1 878.8L397.0 882.3L398.8 885.9L400.6 889.4L402.5 893.0L404.4 896.5L406.2 900.0L408.1 903.6L410.0 907.1L412.0 910.6L413.9 914.1L415.8 917.5L417.8 921.0L419.8 924.5L421.8 927.9L423.8 931.4L425.8 934.8L427.9 938.2L430.0 941.6L432.1 945.0L434.2 948.4L436.3 951.7L438.5 955.1L440.7 958.4L442.9 961.7L445.1 965.0L447.4 968.3L449.7 971.6L452.0 974.8L454.4 978.0L456.8 981.2L459.2 984.4L461.6 987.6L464.1 990.8L466.6 993.9L469.2 997.0L471.7 1000.0L474.3 1003.1L476.9 1006.1L479.6 1009.1L482.3 1012.0L485.0 1015.0L487.8 1017.8L490.5 1020.7L493.4 1023.5L496.2 1026.3L499.1 1029.1L502.0 1031.8L505.0 1034.5L507.9 1037.1L511.0 1039.7L514.0 1042.2L517.1 1044.8L520.2 1047.2L523.4 1049.6L526.6 1052.0L529.8 1054.4L533.1 1056.6L536.4 1058.9L539.7 1061.1L543.1 1063.2L546.5 1065.3L549.9 1067.4L553.4 1069.5L556.8 1071.5L560.3 1073.5L563.8 1075.5L567.3 1077.5L570.9 1079.5L574.4 1081.4L578.0 1083.4L581.5 1085.3L585.1 1087.3L588.6 1089.2L592.2 1091.1L595.7 1093.1L599.3 1095.0L602.8 1096.9L606.3 1098.8L609.8 1100.7L613.3 1102.6L616.8 1104.5L620.3 1106.3L623.7 1108.2L627.2 1110.2L630.6 1112.1L634.0 1114.1L637.3 1116.1L640.6 1118.2L643.9 1120.3L647.2 1122.5L650.5 1124.7L653.7 1127.0L656.9 1129.4L660.2 1131.7L663.4 1134.1L666.6 1136.5L669.9 1138.8L673.1 1141.1L676.4 1143.4L679.8 1145.6L683.1 1147.8L686.5 1149.9L690.0 1152.0L693.4 1154.1L696.9 1156.1L700.4 1158.1L703.9 1160.0L707.4 1161.9L711.0 1163.8L714.6 1165.6L718.2 1167.4L721.8 1169.2L725.4 1170.9L729.1 1172.6L732.7 1174.3L736.4 1175.9L740.1 1177.5L743.9 1179.1L747.6 1180.6L751.3 1182.1L755.1 1183.6L758.8 1185.0L762.6 1186.5L766.4 1187.9L770.2 1189.2L774.0 1190.6L777.8 1191.9L781.6 1193.2L785.4 1194.4L789.2 1195.7L793.1 1196.9L796.9 1198.1L800.7 1199.3L804.6 1200.4L808.4 1201.5L812.2 1202.7L816.1 1203.8L819.9 1204.8L823.7 1205.9L827.6 1206.9L831.4 1208.0L835.3 1209.0L839.1 1210.0L843.0 1211.0L846.8 1212.0L850.7 1213.0L854.5 1213.9L858.4 1214.9L862.3 1215.8L866.1 1216.8L870.0 1217.7L873.9 1218.6L877.7 1219.6L881.6 1220.5L885.5 1221.4L889.4 1222.3L893.2 1223.2L897.1 1224.1L901.0 1225.0L904.9 1225.9L908.8 1226.7L912.7 1227.6L916.5 1228.4L920.4 1229.3L924.3 1230.1L928.2 1231.0L932.1 1231.8L936.0 1232.6L939.9 1233.5L943.8 1234.3L947.7 1235.1L951.6 1235.9L955.5 1236.7L959.4 1237.5L963.3 1238.3L967.3 1239.0L971.2 1239.8L975.1 1240.6L979.0 1241.4L982.9 1242.1L986.8 1242.9L990.8 1243.6L994.7 1244.3L998.6 1245.1L1002.5 1245.8L1006.5 1246.5L1010.4 1247.3L1014.3 1248.0L1018.2 1248.7L1022.2 1249.4L1026.1 1250.1L1030.0 1250.8L1034.0 1251.5L1037.9 1252.1L1041.9 1252.8L1045.8 1253.5L1049.7 1254.2L1053.7 1254.8L1057.6 1255.5L1061.6 1256.1L1065.5 1256.8L1069.5 1257.4L1073.4 1258.1L1077.4 1258.7L1081.3 1259.3L1085.3 1259.9L1089.2 1260.6L1093.2 1261.2L1097.1 1261.8L1101.1 1262.4L1105.1 1263.0L1109.0 1263.6L1113.0 1264.2L1116.9 1264.7L1120.9 1265.3L1124.9 1265.9L1128.8 1266.5L1132.8 1267.0L1136.7 1267.6L1140.7 1268.2L1144.7 1268.7L1148.7 1269.3L1152.6 1269.8L1156.6 1270.3L1160.6 1270.9L1164.5 1271.4L1168.5 1271.9L1172.5 1272.4L1176.5 1273.0L1180.4 1273.5L1184.4 1274.0L1188.4 1274.5L1192.4 1275.0L1196.3 1275.5L1200.3 1276.0L1204.3 1276.5L1208.3 1276.9L1212.2 1277.4L1216.2 1277.9L1220.2 1278.4L1224.2 1278.8L1228.2 1279.3L1232.2 1279.8L1236.1 1280.2L1240.1 1280.7L1244.1 1281.1L1248.1 1281.5L1252.1 1282.0L1256.1 1282.4L1260.1 1282.9L1264.0 1283.3L1268.0 1283.7L1272.0 1284.1L1276.0 1284.5L1280.0 1284.9L1284.0 1285.4L1288.0 1285.8L1292.0 1286.2L1295.9 1286.6L1299.9 1286.9L1303.9 1287.3L1307.9 1287.7L1311.9 1288.1L1315.9 1288.5L1319.9 1288.9L1323.9 1289.2L1327.9 1289.6L1331.9 1290.0L1335.9 1290.3L1339.8 1290.7L1343.8 1291.0L1347.8 1291.4L1351.8 1291.7L1355.8 1292.1L1359.8 1292.4L1363.8 1292.7L1367.8 1293.1L1371.8 1293.4L1375.8 1293.7L1379.8 1294.1L1383.8 1294.4L1387.7 1294.7L1391.7 1295.0L1395.7 1295.3L1399.7 1295.6L1403.7 1295.9L1407.7 1296.2L1411.7 1296.5L1415.7 1296.8L1419.7 1297.1L1423.7 1297.4L1427.7 1297.7L1431.7 1298.0L1435.6 1298.2L1439.6 1298.5L1443.6 1298.8L1447.6 1299.1L1451.6 1299.3L1454.9 1299.5L1458.1 1299.8L1461.4 1300.0L1464.7 1300.2L1468.0 1300.4L1471.2 1300.6L1474.5 1300.8L1477.8 1301.0L1481.0 1301.2L1484.3 1301.4L1487.6 1301.6L1490.8 1301.9L1494.1 1302.0L1497.4 1302.2L1500.6 1302.5L1503.9 1302.7L1507.2 1302.7L1510.4 1302.9L1513.7 1303.1L1517.0 1303.3L1520.3 1303.6L1523.5 1303.7L1526.8 1303.9L1530.1 1304.1L1533.3 1304.3L1536.6 1304.3L1539.9 1304.5L1543.1 1304.9L1546.4 1304.9L1549.7 1305.0L1552.9 1305.3L1556.2 1305.3L1559.5 1305.5L1562.8 1305.9L1566.0 1306.1L1569.3 1305.9L1572.6 1306.1L1575.8 1306.2L1579.1 1306.2L1582.4 1306.6L1585.6 1307.0L1588.9 1307.0L1592.2 1307.2L1595.4 1307.1L1598.7 1307.3L1602.0 1307.5L1605.3 1307.6L1608.5 1307.9L1611.8 1308.0L1615.1 1308.0L1618.3 1307.9L1621.6 1308.1L1624.9 1308.4L1628.1 1308.5L1631.4 1308.4L1634.7 1308.4L1637.9 1309.0L1641.2 1309.2L1644.5 1309.1L1647.7 1309.4L1651.0 1309.6L1654.3 1309.5L1657.6 1309.6L1660.8 1310.0L1664.1 1310.1L1667.4 1310.4L1670.6 1310.4L1673.9 1310.4L1677.2 1310.3L1680.4 1310.4L1683.7 1310.4L1687.0 1310.6L1690.2 1310.8L1693.5 1311.2L1696.8 1311.4L1700.1 1311.2L1703.3 1311.3L1706.6 1311.0L1709.9 1311.1L1713.1 1311.2L1716.4 1311.5L1719.7 1311.6L1722.9 1311.5L1726.2 1311.8L1729.5 1311.5L1732.7 1311.9L1736.0 1312.2L1739.3 1312.6L1742.5 1312.1L1745.8 1312.2L1749.1 1311.9L1752.4 1312.7L1755.6 1312.7L1758.9 1312.8L1762.2 1312.5L1765.4 1312.7L1768.7 1312.8L1772.0 1312.7L1775.2 1312.8L1778.5 1312.9L1781.8 1313.0L1785.0 1312.9L1788.3 1313.8L1791.6 1313.8L1794.9 1313.8L1798.1 1313.9L1801.4 1313.9L1804.7 1314.0L1807.9 1314.3L1811.2 1314.2L1814.5 1314.7L1817.7 1314.5L1821.0 1314.8L1824.3 1314.5L1827.5 1314.7L1830.8 1315.1L1834.1 1315.5L1837.3 1315.7L1840.6 1315.0L1843.9 1315.0L1847.2 1315.9L1850.4 1315.6L1853.7 1315.2L1857.0 1316.1L1860.2 1316.3L1863.5 1315.8L1866.8 1316.0L1870.0 1316.8L1873.3 1316.6L1876.6 1316.6L1879.8 1316.8L1883.1 1317.5L1886.4 1316.9L1889.7 1317.4L1892.9 1317.7L1896.2 1318.0L1899.5 1318.3L1902.7 1318.3L1906.0 1318.6L1909.3 1318.9L1912.5 1319.4L1915.8 1318.4L1919.1 1319.0L1922.3 1319.6L1925.6 1319.3L1928.9 1320.4L1932.2 1320.7L1935.4 1320.0L1938.7 1320.5L1942.0 1321.4L1945.2 1321.5L1948.5 1321.4L1951.8 1322.1L1955.0 1322.5L1958.3 1322.3L1961.6 1322.7L1964.8 1323.8L1968.1 1324.3L1971.4 1323.7L1974.6 1323.8L1977.9 1325.1L1981.2 1325.4L1984.5 1325.4L1987.7 1325.6L1991.0 1326.1L1994.3 1326.9L1997.5 1325.9L2000.8 1327.3L2004.1 1327.4L2007.3 1327.4L2010.6 1328.1L2013.9 1328.4L2017.1 1328.8L2020.4 1329.8L2023.7 1330.2L2027.0 1331.2L2030.2 1330.6L2033.5 1331.0L2036.8 1330.0L2040.0 1330.6L2043.3 1331.1L2046.6 1332.2L2049.8 1331.8L2053.1 1332.7L2056.4 1333.5L2059.6 1333.2L2062.9 1331.8L2066.2 1331.7L2069.4 1331.7L2072.7 1331.2L2076.0 1331.1L2079.3 1331.2L2082.5 1330.7L2085.8 1333.0L2089.1 1334.5L2092.3 1331.9L2095.6 1332.3L2098.9 1333.1L2102.1 1331.5L2105.4 1330.4L2108.7 1330.7L2111.9 1333.3L2115.2 1333.6L2118.5 1333.5L2121.8 1332.0L2125.0 1330.2L2128.3 1329.9L2131.6 1331.3L2134.8 1334.3L2138.1 1335.1L2141.4 1335.1L2144.6 1336.8L2147.9 1339.4L2151.2 1338.8L2154.4 1336.4L2157.7 1334.6L2161.0 1334.2L2164.2 1335.0L2167.5 1337.7L2170.8 1335.6L2174.1 1334.7L2177.3 1333.4L2180.6 1334.8L2183.9 1336.0L2187.1 1337.1L2188.7 1337.8" stroke="#000000"/>
</g>
<g font-family="'Liberation Sans', sans-serif" font-weight="bold" font-size="70.1" fill="#000">
<text x="226.60" y="1459.3" text-anchor="middle">300</text>
<text x="553.50" y="1459.3" text-anchor="middle">400</text>
<text x="880.40" y="1459.3" text-anchor="middle">500</text>
<text x="1207.30" y="1459.3" text-anchor="middle">600</text>
<text x="1534.20" y="1459.3" text-anchor="middle">700</text>
<text x="1861.10" y="1459.3" text-anchor="middle">800</text>
<text x="2188.00" y="1459.3" text-anchor="middle">900</text>
<text x="201.3" y="1399.40" text-anchor="end">0.0</text>
<text x="201.3" y="982.63" text-anchor="end">0.4</text>
<text x="201.3" y="565.87" text-anchor="end">0.8</text>
<text x="201.3" y="149.10" text-anchor="end">1.2</text>
</g>
<text x="1293" y="1528" text-anchor="middle" font-family="'Liberation Sans', sans-serif" font-weight="bold" font-size="65.1" fill="#000">Wavelength (nm)</text>
<text transform="translate(80.7 755) rotate(-90)" text-anchor="middle" font-family="'Liberation Sans', sans-serif" font-weight="bold" font-size="76.6" fill="#000">Absorbtion</text>
<path d="M1258.4 150.9 H1448.7" stroke="#00ff00" stroke-width="8.8" fill="none"/>
<text x="1472.7" y="180.1" font-family="'Liberation Sans', sans-serif" font-size="84.5" fill="#000" style="white-space:pre">Fe<tspan font-size="51.3" dy="-47">3+</tspan><tspan dy="47">/Fe</tspan><tspan font-size="51.3" dy="-47">2+</tspan><tspan dy="47"> =1/20</tspan></text>
<path d="M1258.4 273.7 H1448.7" stroke="#ff0000" stroke-width="8.8" fill="none"/>
<text x="1472.7" y="302.8" font-family="'Liberation Sans', sans-serif" font-size="84.5" fill="#000" style="white-space:pre">Fe<tspan font-size="51.3" dy="-47">3+</tspan><tspan dy="47">/Fe</tspan><tspan font-size="51.3" dy="-47">2+</tspan><tspan dy="47">=1/10</tspan></text>
<path d="M1258.4 395.9 H1448.7" stroke="#0000ff" stroke-width="8.8" fill="none"/>
<text x="1472.7" y="425" font-family="'Liberation Sans', sans-serif" font-size="84.5" fill="#000" style="white-space:pre">Fe<tspan font-size="51.3" dy="-47">3+</tspan><tspan dy="47">/Fe</tspan><tspan font-size="51.3" dy="-47">2+</tspan><tspan dy="47"> =1/5</tspan></text>
<path d="M1258.4 517.9 H1448.7" stroke="#000000" stroke-width="8.8" fill="none"/>
<text x="1472.7" y="546.7" font-family="'Liberation Sans', sans-serif" font-size="84.5" fill="#000" style="white-space:pre">Fe<tspan font-size="51.3" dy="-47">3+</tspan><tspan dy="47">/Fe</tspan><tspan font-size="51.3" dy="-47">2+</tspan><tspan dy="47"> = 0</tspan></text>
</svg>
</body></html>
